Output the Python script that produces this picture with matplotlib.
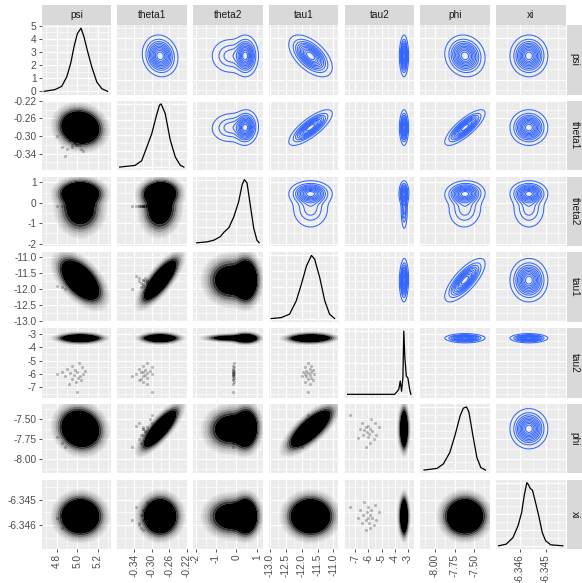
import numpy as np
import matplotlib.pyplot as plt
from matplotlib.patches import Rectangle
from matplotlib.ticker import FixedLocator, FormatStrFormatter, MaxNLocator, AutoMinorLocator

plt.rcParams['font.family'] = ['Liberation Sans', 'DejaVu Sans']
plt.rcParams['axes.unicode_minus'] = False

# 变量名
names = ['psi', 'theta1', 'theta2', 'tau1', 'tau2', 'phi', 'xi']

# 坐标范围与刻度
lims = [(4.655, 5.33), (-0.378, -0.22), (-2.12, 1.29), (-13.03, -10.84),
        (-7.8, -2.52), (-8.18, -7.305), (-6.34692, -6.34422)]
ticks = [[4.8, 5.0, 5.2], [-0.34, -0.30, -0.26, -0.22], [-2, -1, 0, 1],
         [-13.0, -12.5, -12.0, -11.5, -11.0], [-7, -6, -5, -4, -3],
         [-8.00, -7.75, -7.50], [-6.346, -6.345]]
fmts = ['%.1f', '%.2f', '%d', '%.1f', '%d', '%.2f', '%.3f']
psi_density_ticks = [0, 1, 2, 3, 4, 5]

# 对角线密度曲线（读点）
psi_dx = [4.679, 4.783, 4.849, 4.898, 4.937, 4.969, 5.001, 5.037, 5.066, 5.099, 5.141, 5.19, 5.239, 5.294]
psi_dy = [0, 0.13, 0.38, 1.1, 2.15, 3.4, 4.4, 4.82, 4.15, 3.1, 1.87, 0.72, 0.2, 0]
theta1_dx = [-0.373, -0.338, -0.323, -0.311, -0.300, -0.290, -0.2825, -0.2787, -0.2695, -0.258, -0.2465, -0.235, -0.227]
theta1_dy = [0, 0.027, 0.1, 0.32, 0.53, 0.8, 0.98, 1.0, 0.85, 0.43, 0.16, 0.027, 0]
theta2_dx = [-1.95, -1.43, -1.1, -0.78, -0.62, -0.37, -0.13, 0.11, 0.28, 0.39, 0.52, 0.68, 0.85, 1.01, 1.12]
theta2_dy = [0, 0.016, 0.043, 0.1, 0.165, 0.24, 0.41, 0.65, 0.92, 1.0, 0.95, 0.6, 0.23, 0.04, 0]
tau1_dx = [-12.96, -12.64, -12.38, -12.17, -12.01, -11.85, -11.69, -11.59, -11.43, -11.27, -11.12, -10.96]
tau1_dy = [0, 0.016, 0.07, 0.28, 0.54, 0.83, 1.0, 0.94, 0.65, 0.28, 0.07, 0]
tau2_dx = [-7.58, -4.02, -3.89, -3.69, -3.58, -3.48, -3.38, -3.31, -3.23, -3.12, -3.0, -2.87, -2.77]
tau2_dy = [0, 0, 0.026, 0.08, 0.21, 0.05, 0.26, 1.0, 0.58, 0.29, 0.26, 0.08, 0]
phi_dx = [-8.135, -7.97, -7.89, -7.81, -7.745, -7.68, -7.64, -7.60, -7.57, -7.52, -7.47, -7.42, -7.36]
phi_dy = [0, 0.027, 0.1, 0.28, 0.55, 0.86, 0.98, 1.0, 0.92, 0.55, 0.2, 0.04, 0]
xi_dx = [-6.34683, -6.34653, -6.34627, -6.34607, -6.34593, -6.34583, -6.34573, -6.34567,
         -6.3456, -6.34551, -6.3454, -6.34527, -6.34513, -6.345, -6.3448, -6.34433]
xi_dy = [0, 0.027, 0.13, 0.32, 0.53, 0.8, 1.0, 0.97, 0.91, 0.88, 0.7, 0.48, 0.21, 0.08, 0.016, 0]
diag_x = [psi_dx, theta1_dx, theta2_dx, tau1_dx, tau2_dx, phi_dx, xi_dx]
diag_y = [psi_dy, theta1_dy, theta2_dy, tau1_dy, tau2_dy, phi_dy, xi_dy]

# 点云的概括：两个分量的均值/标准差 + 两两相关系数
w_comp = [0.65, 0.35]
mu_main = [5.03, -0.281, 0.45, -11.72, -3.30, -7.62, -6.34565]
sd_main = [0.08, 0.016, 0.25, 0.27, 0.15, 0.10, 0.00029]
mu_tail = [5.03, -0.281, -0.30, -11.72, -3.28, -7.62, -6.34565]
sd_tail = [0.08, 0.016, 0.45, 0.27, 0.11, 0.10, 0.00029]
corr = [[1.0, -0.1, 0.0, -0.55, 0.0, -0.1, 0.0],
        [-0.1, 1.0, 0.05, 0.78, 0.0, 0.8, 0.0],
        [0.0, 0.05, 1.0, 0.0, 0.0, 0.05, 0.0],
        [-0.55, 0.78, 0.0, 1.0, 0.05, 0.75, 0.0],
        [0.0, 0.0, 0.0, 0.05, 1.0, 0.0, 0.0],
        [-0.1, 0.8, 0.05, 0.75, 0.0, 1.0, 0.0],
        [0.0, 0.0, 0.0, 0.0, 0.0, 0.0, 1.0]]

# tau2 离群点（每行一个样本）
out_psi = [5.02, 4.95, 5.05, 4.90, 4.98, 5.08, 4.85, 5.00, 4.93, 5.06, 4.80, 4.97, 5.03, 4.88, 5.01, 4.95, 5.04, 4.99, 4.92, 5.00]
out_theta1 = [-0.31, -0.32, -0.30, -0.33, -0.315, -0.305, -0.325, -0.32, -0.31, -0.335, -0.30, -0.315, -0.32, -0.345, -0.31, -0.325, -0.33, -0.32, -0.31, -0.30]
out_theta2 = [-0.12, -0.15, -0.14, -0.17, -0.16, -0.13, -0.15, -0.16, -0.14, -0.15, -0.18, -0.14, -0.15, -0.16, -0.13, -0.15, -0.17, -0.14, -0.16, -0.15]
out_tau1 = [-11.8, -11.7, -11.9, -11.75, -11.65, -11.85, -11.95, -11.7, -11.8, -11.6, -11.9, -11.75, -11.85, -12.0, -11.7, -11.8, -11.65, -11.9, -11.75, -11.8]
out_tau2 = [-5.2, -5.4, -5.5, -5.6, -5.7, -5.8, -5.85, -5.9, -5.95, -6.0, -6.05, -6.1, -6.15, -6.2, -6.3, -6.4, -6.5, -6.6, -6.8, -7.4]
out_phi = [-7.6, -7.7, -7.55, -7.75, -7.65, -7.5, -7.8, -7.62, -7.68, -7.58, -7.72, -7.66, -7.6, -7.85, -7.64, -7.7, -7.55, -7.62, -7.74, -7.45]
out_xi = [-6.3455, -6.3458, -6.3452, -6.3460, -6.3457, -6.3454, -6.3461, -6.3456, -6.3459, -6.3453, -6.3457, -6.3455, -6.3462, -6.3458, -6.3451, -6.3456, -6.3459, -6.3454, -6.3457, -6.3453]
outliers = [out_psi, out_theta1, out_theta2, out_tau1, out_tau2, out_phi, out_xi]


def mix_density(a, b, X, Y):
    Z = np.zeros_like(X)
    for w, mu, sd in ((w_comp[0], mu_main, sd_main), (w_comp[1], mu_tail, sd_tail)):
        r = corr[a][b]
        u = (X - mu[a]) / sd[a]
        v = (Y - mu[b]) / sd[b]
        q = (u * u - 2 * r * u * v + v * v) / (1 - r * r)
        Z += w * np.exp(-q / 2) / (sd[a] * sd[b] * np.sqrt(1 - r * r))
    return Z / Z.max()


W, H = 582, 583
x0, y0, size, step = 41.7, 25.0, 69.5, 75.75
n = len(names)

fig = plt.figure(figsize=(W / 100, H / 100), dpi=100)

contour_levels = [0.04, 0.13, 0.22, 0.31, 0.4, 0.5, 0.6, 0.7, 0.8, 0.9]
blob_levels = [0.0015, 0.003, 0.006, 0.012, 0.022, 0.04, 0.065, 1.01]
blob_alpha = [0.06, 0.12, 0.2, 0.33, 0.52, 0.78, 1.0]
blob_colors = [(0, 0, 0, a) for a in blob_alpha]

for i in range(n):
    for j in range(n):
        left = x0 + j * step
        top = y0 + i * step
        ax = fig.add_axes([left / W, 1 - (top + size) / H, size / W, size / H])
        ax.set_facecolor('#EBEBEB')
        for s in ax.spines.values():
            s.set_visible(False)

        if i == j:
            ax.plot(diag_x[j], diag_y[j], color='black', lw=0.9)
            ax.set_xlim(lims[j])
            if i == 0:
                ax.yaxis.set_major_locator(FixedLocator(psi_density_ticks))
            else:
                ax.yaxis.set_major_locator(MaxNLocator(5))
            ax.yaxis.set_minor_locator(AutoMinorLocator(2))
        else:
            gx = np.linspace(lims[j][0], lims[j][1], 200)
            gy = np.linspace(lims[i][0], lims[i][1], 200)
            X, Y = np.meshgrid(gx, gy)
            Z = mix_density(j, i, X, Y)
            if j > i:
                ax.contour(X, Y, Z, levels=contour_levels, colors='#3366FF', linewidths=0.75)
            else:
                ax.contourf(X, Y, Z, levels=blob_levels, colors=blob_colors, antialiased=True)
                ax.scatter(outliers[j], outliers[i], s=5, color='black', alpha=0.25, linewidths=0)
            ax.set_xlim(lims[j])
            ax.set_ylim(lims[i])
            tk = ticks[i]
            d = tk[1] - tk[0]
            ax.yaxis.set_major_locator(FixedLocator(tk))
            ax.yaxis.set_minor_locator(FixedLocator(np.arange(tk[0] - d / 2, tk[-1] + d, d)))

        tk = ticks[j]
        d = tk[1] - tk[0]
        ax.xaxis.set_major_locator(FixedLocator(tk))
        ax.xaxis.set_minor_locator(FixedLocator(np.arange(tk[0] - d / 2, tk[-1] + d, d)))

        ax.grid(which='major', color='white', lw=0.9)
        ax.grid(which='minor', color='white', lw=0.45)
        ax.set_axisbelow(True)
        ax.tick_params(which='minor', length=0)
        ax.tick_params(which='major', length=2.2, width=0.6, color='#333333',
                       labelsize=7.3, labelcolor='#4D4D4D', pad=1.5)

        if j == 0:
            if i == 0:
                ax.yaxis.set_major_formatter(FormatStrFormatter('%d'))
            else:
                ax.yaxis.set_major_formatter(FormatStrFormatter(fmts[i]))
        else:
            ax.tick_params(axis='y', which='major', length=0, labelleft=False)
        if i == n - 1:
            ax.xaxis.set_major_formatter(FormatStrFormatter(fmts[j]))
            ax.tick_params(axis='x', labelrotation=90)
        else:
            ax.tick_params(axis='x', which='major', length=0, labelbottom=False)

# 顶部和右侧的标签条
for k in range(n):
    left = x0 + k * step
    fig.add_artist(Rectangle((left / W, 1 - 25 / H), size / W, 20 / H,
                             transform=fig.transFigure, fc='#D9D9D9', ec='none'))
    fig.text((left + size / 2) / W, 1 - 15 / H, names[k], ha='center', va='center',
             fontsize=7.3, color='#1A1A1A')
    top = y0 + k * step
    fig.add_artist(Rectangle((566.5 / W, 1 - (top + size) / H), 16 / W, size / H,
                             transform=fig.transFigure, fc='#D9D9D9', ec='none'))
    fig.text(574.5 / W, 1 - (top + size / 2) / H, names[k], ha='center', va='center',
             rotation=-90, fontsize=7.3, color='#1A1A1A')

plt.savefig('out.png', dpi=100)
